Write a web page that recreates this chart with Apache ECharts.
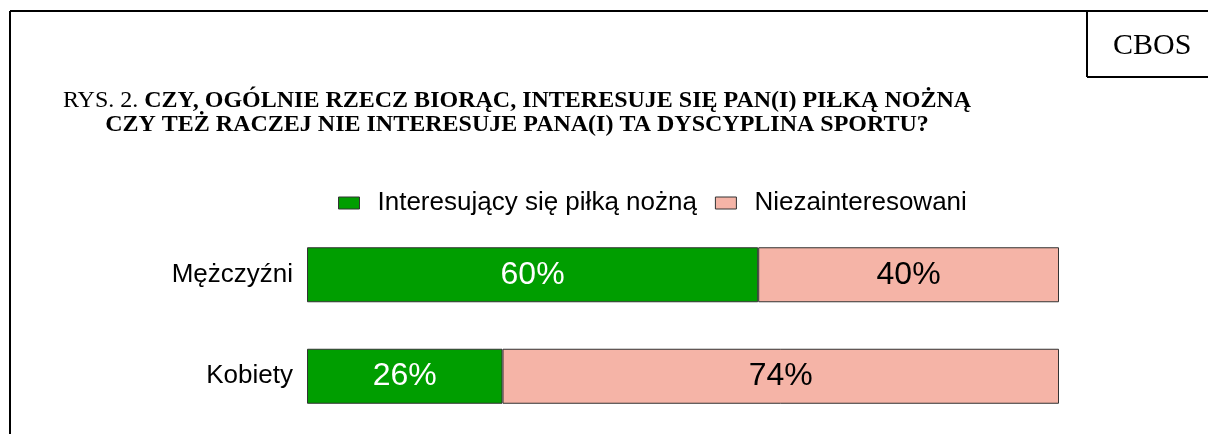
<!DOCTYPE html>
<html>
<head>
<meta charset="utf-8">
<script src="https://cdn.jsdelivr.net/npm/echarts@6/dist/echarts.min.js"></script>
<style>
  html, body { margin: 0; padding: 0; background: #fff; }
  #chart { width: 1208px; height: 434px; }
</style>
</head>
<body>
<div id="chart"></div>
<script>
const categories = ['Mężczyźni', 'Kobiety'];
const interested = [60, 26];
const notInterested = [40, 74];
const seriesNames = ['Interesujący się piłką nożną', 'Niezainteresowani'];

let myChart = echarts.init(document.getElementById('chart'));
myChart.setOption({
  animation: false,
  title: {
    text: '{n|RYS. 2. }{b|CZY, OGÓLNIE RZECZ BIORĄC, INTERESUJE SIĘ PAN(I) PIŁKĄ NOŻNĄ}\n{b|CZY TEŻ RACZEJ NIE INTERESUJE PANA(I) TA DYSCYPLINA SPORTU?}',
    left: 517,
    top: 89,
    textAlign: 'center',
    padding: 0,
    textStyle: {
      fontWeight: 'normal',
      rich: {
        n: { fontFamily: 'Liberation Serif', fontSize: 24, fontWeight: 'normal', color: '#000', lineHeight: 24 },
        b: { fontFamily: 'Liberation Serif', fontSize: 24, fontWeight: 'bold', color: '#000', lineHeight: 24 }
      }
    }
  },
  legend: {
    data: seriesNames,
    left: 338,
    top: 190,
    padding: 0,
    icon: 'rect',
    itemWidth: 21,
    itemHeight: 12,
    itemGap: 18,
    textStyle: { fontFamily: 'Liberation Sans', fontSize: 26, color: '#000', padding: [0, 0, 0, 13] },
    itemStyle: { borderColor: '#333', borderWidth: 1 }
  },
  grid: { left: 307, right: 149, top: 224, height: 203, containLabel: false },
  xAxis: { type: 'value', min: 0, max: 100, show: false },
  yAxis: {
    type: 'category',
    data: categories,
    inverse: true,
    axisLine: { show: false },
    axisTick: { show: false },
    axisLabel: { fontFamily: 'Liberation Sans', fontSize: 26, color: '#000', margin: 14 }
  },
  series: [
    {
      name: seriesNames[0],
      type: 'bar',
      stack: 'total',
      barWidth: 55,
      data: interested,
      itemStyle: { color: '#009E00', borderColor: '#333', borderWidth: 1 },
      label: { show: true, position: 'inside', formatter: '{c}%', fontFamily: 'Liberation Sans', fontSize: 32, color: '#fff' }
    },
    {
      name: seriesNames[1],
      type: 'bar',
      stack: 'total',
      barWidth: 55,
      data: notInterested,
      itemStyle: { color: '#F5B4A7', borderColor: '#333', borderWidth: 1 },
      label: { show: true, position: 'inside', formatter: '{c}%', fontFamily: 'Liberation Sans', fontSize: 32, color: '#000' }
    }
  ],
  graphic: [
    { type: 'line', shape: { x1: 10, y1: 11, x2: 10, y2: 434 }, style: { stroke: '#000', lineWidth: 2 } },
    { type: 'line', shape: { x1: 10, y1: 11, x2: 1208, y2: 11 }, style: { stroke: '#000', lineWidth: 2 } },
    { type: 'line', shape: { x1: 1087, y1: 11, x2: 1087, y2: 77 }, style: { stroke: '#000', lineWidth: 2 } },
    { type: 'line', shape: { x1: 1087, y1: 77, x2: 1208, y2: 77 }, style: { stroke: '#000', lineWidth: 2 } },
    { type: 'text', x: 1113, y: 46, style: { text: 'CBOS', fontFamily: 'Liberation Serif', fontSize: 30, fill: '#000', verticalAlign: 'middle' } }
  ]
});
</script>
</body>
</html>
